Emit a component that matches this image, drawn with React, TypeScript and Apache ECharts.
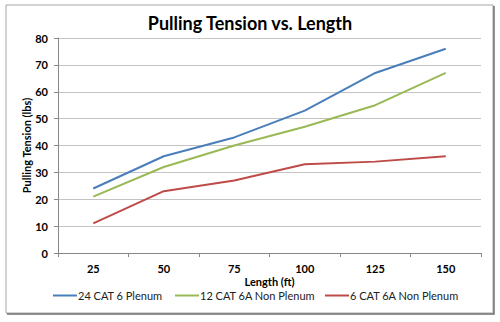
import React, { useEffect, useRef } from "react";
import * as echarts from "echarts";

const categories = ["25", "50", "75", "100", "125", "150"];
const seriesNames = ["24 CAT 6 Plenum", "12 CAT 6A Non Plenum", "6 CAT 6A Non Plenum"];
const plenum24 = [24, 36, 43, 53, 67, 76];
const nonPlenum12 = [21, 32, 40, 47, 55, 67];
const nonPlenum6 = [11, 23, 27, 33, 34, 36];
const colors = ["#4a7ebb", "#98b954", "#be4b48"];

export default function App() {
  const ref = useRef<HTMLDivElement>(null);
  useEffect(() => {
    if (!ref.current) return;
    const chart = echarts.init(ref.current, null, { renderer: "svg" });
    const font = "Lato, 'Open Sans', sans-serif";
    const data = [plenum24, nonPlenum12, nonPlenum6];
    const legendLefts = [53, 175, 325];
    chart.setOption({
      animation: false,
      backgroundColor: "#ffffff",
      textStyle: { fontFamily: font },
      title: {
        text: "Pulling Tension vs. Length",
        left: "center",
        top: 9,
        textStyle: { fontFamily: font, fontSize: 18, fontWeight: "bold", color: "#000" },
      },
      graphic: [
        {
          type: "rect",
          shape: { x: 6, y: 5, width: 487, height: 308 },
          style: { fill: "none", stroke: "#a6a6a6", lineWidth: 1 },
          z: -1,
        },
        {
          type: "polyline",
          shape: { points: [[494, 6], [494, 314], [7, 314]] },
          style: { fill: "none", stroke: "#6f6f6f", lineWidth: 1.5 },
          z: -1,
        },
      ],
      grid: { left: 58, right: 19, top: 38, bottom: 69, containLabel: false },
      legend: seriesNames.map((name, i) => ({
        top: 290,
        left: legendLefts[i],
        padding: 0,
        itemWidth: 24,
        itemHeight: 2,
        icon: "rect",
        textStyle: { fontFamily: font, fontSize: 11, color: "#222", padding: [0, 0, 0, -4] },
        data: [name],
      })),
      xAxis: {
        type: "category",
        data: categories,
        boundaryGap: true,
        name: "Length (ft)",
        nameLocation: "middle",
        nameGap: 23,
        nameMoveOverlap: false,
        nameTextStyle: { fontFamily: font, fontSize: 11, fontWeight: "bold", color: "#000" },
        axisLine: { show: true, lineStyle: { color: "#888", width: 1 } },
        axisTick: { show: true, length: 4, lineStyle: { color: "#888" } },
        axisLabel: { fontFamily: font, fontSize: 11, fontWeight: "bold", color: "#000", margin: 10 },
      },
      yAxis: {
        type: "value",
        min: 0,
        max: 80,
        interval: 10,
        name: "Pulling Tension (lbs)",
        nameLocation: "middle",
        nameGap: 26,
        nameMoveOverlap: false,
        nameRotate: 90,
        nameTextStyle: { fontFamily: font, fontSize: 11, fontWeight: "bold", color: "#000" },
        axisLine: { show: true, lineStyle: { color: "#888", width: 1 } },
        axisTick: { show: true, length: 4, lineStyle: { color: "#888" } },
        axisLabel: { fontFamily: font, fontSize: 11, fontWeight: "bold", color: "#000", margin: 10 },
        splitLine: { show: true, lineStyle: { color: "#c4c4c4", width: 1 } },
      },
      series: seriesNames.map((name, i) => ({
        name,
        type: "line",
        data: data[i],
        showSymbol: false,
        symbol: "none",
        lineStyle: { color: colors[i], width: 2 },
        itemStyle: { color: colors[i] },
      })),
    });
    return () => chart.dispose();
  }, []);
  return (
    <div
      ref={ref}
      style={{ position: "absolute", left: 0, top: 0, width: 500, height: 322 }}
    />
  );
}
